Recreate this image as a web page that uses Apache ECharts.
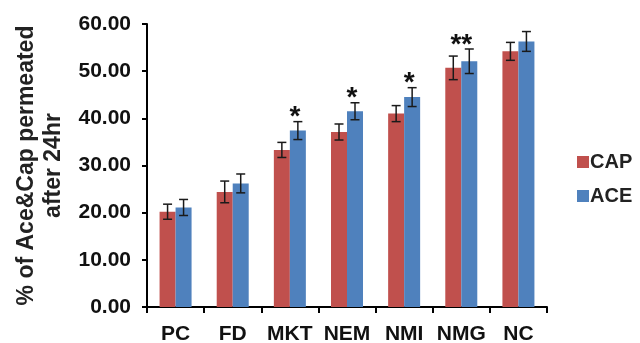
<!DOCTYPE html>
<html>
<head>
<meta charset="utf-8">
<script src="https://cdn.jsdelivr.net/npm/echarts@6/dist/echarts.min.js"></script>
<style>
  html, body { margin: 0; padding: 0; background: #fff; }
  #chart { width: 640px; height: 343px; }
</style>
</head>
<body>
<div id="chart"></div>
<script>
const categories = ['PC', 'FD', 'MKT', 'NEM', 'NMI', 'NMG', 'NC']
const capValues = [20.2, 24.4, 33.3, 37.1, 41.0, 50.7, 54.2]
const capErrors = [1.6, 2.3, 1.6, 1.7, 1.7, 2.5, 1.9]
const aceValues = [21.1, 26.2, 37.4, 41.5, 44.5, 52.1, 56.3]
const aceErrors = [1.7, 2.0, 1.9, 1.8, 2.0, 2.6, 2.1]
const stars = ['', '', '*', '*', '*', '**', '']
const yTicks = [0, 10, 20, 30, 40, 50, 60]

const BAR_W = 16
const font = '"Liberation Sans", Arial, sans-serif'

function errorSeries (name, values, errors, shift) {
  return {
    name: name + ' err',
    type: 'custom',
    z: 5,
    silent: true,
    data: values.map((v, i) => [i, v, errors[i]]),
    renderItem (params, api) {
      const i = api.value(0)
      const hi = api.coord([i, api.value(1) + api.value(2)])
      const lo = api.coord([i, api.value(1) - api.value(2)])
      const x = hi[0] + shift
      const cap = 4.5
      const style = { stroke: '#1a1a1a', lineWidth: 1.5 }
      return {
        type: 'group',
        children: [
          { type: 'line', shape: { x1: x, y1: hi[1], x2: x, y2: lo[1] }, style },
          { type: 'line', shape: { x1: x - cap, y1: hi[1], x2: x + cap, y2: hi[1] }, style },
          { type: 'line', shape: { x1: x - cap, y1: lo[1], x2: x + cap, y2: lo[1] }, style }
        ]
      }
    }
  }
}

const option = {
  animation: false,
  backgroundColor: '#fff',
  grid: { left: 147, right: 93, top: 24, bottom: 36, outerBoundsMode: 'none', containLabel: false },
  legend: {
    orient: 'vertical',
    left: 577,
    top: 152,
    padding: 0,
    itemWidth: 12,
    itemHeight: 12,
    itemGap: 14,
    icon: 'rect',
    data: ['CAP', 'ACE'],
    textStyle: { fontFamily: font, fontSize: 20, fontWeight: 'bold', color: '#222', padding: [0, 0, 0, -4] }
  },
  xAxis: {
    type: 'category',
    data: categories,
    axisLine: { lineStyle: { color: '#000', width: 2 } },
    axisTick: { show: true, length: 6, lineStyle: { color: '#000', width: 2 } },
    axisLabel: {
      interval: 0, hideOverlap: false,
      fontFamily: font, fontSize: 21, fontWeight: 'bold', color: '#111', margin: 17
    }
  },
  yAxis: {
    type: 'value',
    min: yTicks[0],
    max: yTicks[yTicks.length - 1],
    interval: 10,
    name: '% of Ace&Cap permeated\nafter 24hr',
    nameLocation: 'middle',
    nameGap: 80,
    nameTextStyle: { fontFamily: font, fontSize: 23, fontWeight: 'bold', color: '#222', lineHeight: 27 },
    axisLine: { show: true, lineStyle: { color: '#000', width: 2 } },
    axisTick: { show: true, length: 5, lineStyle: { color: '#000', width: 2 } },
    splitLine: { show: false },
    axisLabel: {
      fontFamily: font, fontSize: 21, fontWeight: 'bold', color: '#111', margin: 16,
      formatter: v => v.toFixed(2)
    }
  },
  series: [
    {
      name: 'CAP', type: 'bar', data: capValues, barWidth: BAR_W, barGap: '0%',
      itemStyle: { color: '#C0504D' }
    },
    {
      name: 'ACE', type: 'bar', data: aceValues, barWidth: BAR_W, barGap: '0%',
      itemStyle: { color: '#4F81BD' }
    },
    errorSeries('CAP', capValues, capErrors, -BAR_W / 2),
    errorSeries('ACE', aceValues, aceErrors, BAR_W / 2),
    {
      name: 'stars',
      type: 'custom',
      z: 6,
      silent: true,
      data: stars.map((s, i) => [i, Math.max(capValues[i] + capErrors[i], aceValues[i] + aceErrors[i]), s]),
      renderItem (params, api) {
        const i = api.value(0)
        const s = stars[i]
        if (!s) return null
        const p = api.coord([i, api.value(1)])
        const x = s.length > 1 ? p[0] : p[0] + BAR_W / 2 - 3
        return {
          type: 'text',
          style: {
            x, y: p[1] + 10, text: s, align: 'center', verticalAlign: 'bottom',
            fill: '#111', font: 'bold 28px ' + font
          }
        }
      }
    }
  ]
}

const chart = echarts.init(document.getElementById('chart'))
chart.setOption(option)
</script>
</body>
</html>
